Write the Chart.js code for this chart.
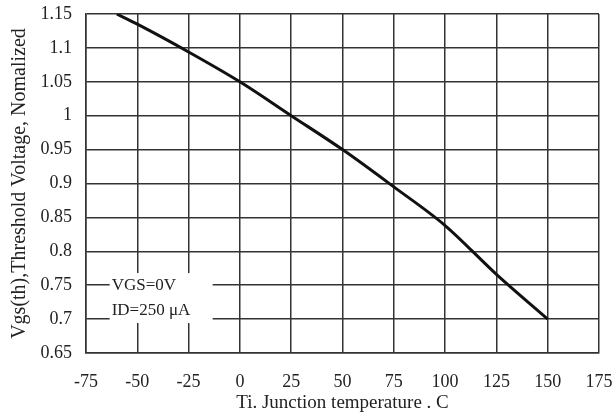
<!DOCTYPE html>
<html>
<head>
<meta charset="utf-8">
<script src="https://cdn.jsdelivr.net/npm/chart.js@4"></script>
<style>
  html, body { margin: 0; padding: 0; background: #fff; }
  #wrap { width: 616px; height: 414px; }
</style>
</head>
<body>
<div id="wrap"><canvas id="grafico"></canvas></div>
<script>
// temperaturas (C) y voltaje umbral normalizado
var temps = [-60, -50, -25, 0, 25, 50, 75, 100, 125, 150];
var vth = [1.15, 1.135, 1.094, 1.05, 1.0, 0.95, 0.895, 0.838, 0.766, 0.70];
var xTicks = [-75, -50, -25, 0, 25, 50, 75, 100, 125, 150, 175];
var yTicks = [0.65, 0.7, 0.75, 0.8, 0.85, 0.9, 0.95, 1, 1.05, 1.1, 1.15];
var notas = ["VGS=0V", "ID=250 \u03bcA"];

var serif = "'Liberation Serif', 'DejaVu Serif', serif";

// caja de texto con fondo blanco sobre la rejilla
var notaPlugin = {
    id: "nota",
    afterDatasetsDraw: function (chart) {
        var ctx = chart.ctx;
        var xs = chart.scales.x, ys = chart.scales.y;
        var x0 = xs.getPixelForValue(-62.5);
        var y0 = ys.getPixelForValue(0.762);
        ctx.save();
        ctx.fillStyle = "#fff";
        ctx.fillRect(x0 - 2, y0 - 4, 103, 50);
        ctx.fillStyle = "#222";
        ctx.font = "17px " + serif;
        ctx.textBaseline = "middle";
        ctx.fillText(notas[0], x0, ys.getPixelForValue(0.75));
        ctx.fillText(notas[1], x0, ys.getPixelForValue(0.712));
        ctx.restore();
    }
};

document.addEventListener("DOMContentLoaded", function () {
    var ctx = document.getElementById("grafico").getContext("2d");

    new Chart(ctx, {
        type: "line",
        data: {
            datasets: [{
                data: temps.map(function (t, i) { return { x: t, y: vth[i] }; }),
                borderColor: "#111",
                borderWidth: 3,
                pointRadius: 0,
                cubicInterpolationMode: "monotone",
                fill: false
            }]
        },
        options: {
            responsive: true,
            maintainAspectRatio: false,
            animation: false,
            layout: { padding: { top: 14, right: 17, left: 0, bottom: 0 } },
            plugins: {
                legend: { display: false },
                tooltip: { enabled: false }
            },
            scales: {
                x: {
                    type: "linear",
                    min: -75,
                    max: 175,
                    afterBuildTicks: function (s) { s.ticks = xTicks.map(function (v) { return { value: v }; }); },
                    afterFit: function (s) {
                        s.height = 61;
                        s.paddingLeft = 0;
                        s.paddingRight = 0;
                    },
                    grid: { color: "#333", lineWidth: 1.5, drawTicks: false },
                    border: { color: "#333", width: 1.5 },
                    ticks: { color: "#222", padding: 18, maxRotation: 0, font: { family: serif, size: 18 } },
                    title: { display: true, text: "Ti. Junction temperature . C", color: "#222", padding: { top: 0, bottom: 0 }, font: { family: serif, size: 19 } }
                },
                y: {
                    min: 0.65,
                    max: 1.15,
                    afterBuildTicks: function (s) { s.ticks = yTicks.map(function (v) { return { value: v }; }); },
                    afterFit: function (s) {
                        s.width = 86;
                        s.paddingTop = 0;
                        s.paddingBottom = 0;
                    },
                    grid: { color: "#333", lineWidth: 1.5, drawTicks: false },
                    border: { color: "#333", width: 1.5 },
                    ticks: {
                        color: "#222",
                        padding: 14,
                        font: { family: serif, size: 18 },
                        callback: function (v) { return String(Math.round(v * 100) / 100); }
                    },
                    title: { display: true, text: "Vgs(th),Threshold Voltage, Nomalized", color: "#222", padding: { top: 8, bottom: 0 }, font: { family: serif, size: 20 } }
                }
            }
        },
        plugins: [notaPlugin]
    });
});
</script>
</body>
</html>
